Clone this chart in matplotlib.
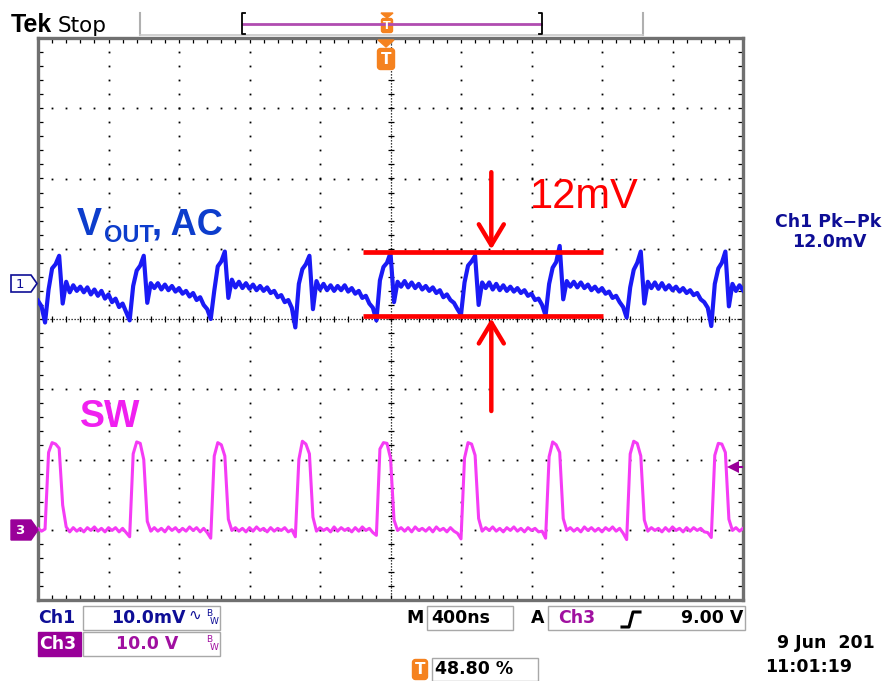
import numpy as np
import matplotlib.pyplot as plt
from matplotlib.patches import Rectangle, Polygon, FancyBboxPatch

# scope settings
time_per_div = 400.0   # ns/div  (M 400ns)
ch1_per_div = 10.0     # mV/div
ch3_per_div = 10.0     # V/div
ch1_offset = 0.5       # div above centre (marker "1")
ch3_offset = -3.0      # div (marker "3")
trig_level = 9.0       # V, Ch3 rising edge
sample_ns = 20.0       # one sample every 20 ns across the 4 us record

# Ch1: Vout AC ripple, mV (every 20 ns)
ch1_mv = [-2.4, -3.2, -5.5,
          -0.8, 2.2, 2.8, 4.0, -2.8, 0.3, -1.2, -0.2, -1.0, -0.4, -1.2, -0.5,
          -1.5, -0.8, -1.7, -1.0, -2.1, -1.5, -2.6, -2.1, -3.3, -2.8, -4.0, -5.2,
          -0.3, 1.9, 2.6, 4.0, -2.7, 0.1, -0.6, 0.1, -0.8, -0.1, -0.9, -0.3,
          -1.1, -0.6, -1.4, -1.0, -1.8, -1.3, -2.3, -1.9, -3.0, -3.6, -5.0,
          -1.0, 2.5, 3.2, 4.6, -2.0, 0.6, -0.5, 0.3, -0.6, 0.1, -0.7, -0.1,
          -0.9, -0.3, -1.0, -0.5, -1.3, -1.0, -1.9, -1.6, -2.6, -2.3, -3.4, -6.2,
          0.0, 2.1, 2.8, 4.0, -3.6, 0.4, -0.8, 0.0, -0.9, -0.2, -1.0, -0.3,
          -0.9, -0.2, -1.1, -0.6, -1.4, -1.0, -2.0, -1.7, -2.8, -3.4, -5.2,
          0.5, 2.4, 3.0, 4.4, -2.6, 0.3, -0.4, 0.4, -0.5, 0.2, -0.6, 0.0,
          -0.8, -0.3, -1.0, -0.5, -1.3, -0.9, -1.9, -1.5, -2.3, -2.7, -3.6, -4.4,
          0.2, 2.6, 3.2, 4.0, -3.0, 0.2, -0.6, 0.2, -0.8, 0.0, -0.9, -0.2,
          -1.0, -0.4, -1.1, -0.6, -1.3, -0.9, -1.7, -1.4, -2.3, -2.1, -3.0, -4.5,
          0.0, 2.3, 3.1, 5.4, -2.2, 0.4, -0.4, 0.3, -0.5, 0.2, -0.6, -0.1,
          -0.9, -0.4, -1.1, -0.6, -1.4, -1.1, -2.0, -1.7, -2.6, -3.3, -4.8,
          -0.5, 2.0, 3.0, 4.6, -2.8, 0.3, -0.6, 0.2, -0.7, 0.1, -0.8, -0.2,
          -0.9, -0.4, -1.1, -0.6, -1.3, -0.9, -1.6, -1.3, -2.2, -2.6, -3.4, -6.0,
          0.0, 2.2, 3.0, 4.6, -3.2, 0.0, -1.0, -0.2, -0.9]

# Ch3: switch node, V
ch3_v = [0.2, -0.2, 0.1,
         11.0, 12.4, 12.2, 11.6, 3.5, 0.4,
         -0.3, 0.3, -0.2, 0.2, -0.3, 0.3, -0.1, 0.4, -0.2, 0.2, -0.3, 0.3, -0.1, 0.3, -0.3, 0.2, -0.4, -1.0,
         10.8, 12.5, 12.3, 10.0, 1.2,
         -0.2, 0.3, -0.2, 0.2, -0.3, 0.4, -0.1, 0.3, -0.3, 0.2, -0.2, 0.4, -0.1, 0.3, -0.3, 0.2, -0.4, -1.2,
         10.5, 12.4, 12.1, 10.5, 1.5,
         -0.1, 0.3, -0.2, 0.2, -0.3, 0.3, -0.2, 0.4, -0.1, 0.2, -0.3, 0.3, -0.2, 0.2, -0.1, 0.3, -0.3, 0.0, -1.0,
         10.0, 12.6, 12.2, 10.8, 1.8,
         -0.2, 0.3, -0.1, 0.2, -0.3, 0.4, -0.2, 0.3, -0.1, 0.2, -0.3, 0.3, -0.2, 0.4, -0.1, 0.2, -0.4, -0.8,
         11.5, 12.4, 12.3, 10.2, 1.4,
         -0.1, 0.3, -0.2, 0.3, -0.3, 0.4, -0.1, 0.2, -0.2, 0.3, -0.3, 0.4, -0.1, 0.2, -0.3, 0.3, -0.2, -0.5, -1.3,
         10.2, 12.4, 12.2, 10.6, 1.6,
         -0.2, 0.3, -0.1, 0.4, -0.2, 0.2, -0.3, 0.3, -0.1, 0.4, -0.2, 0.2, -0.3, 0.3, -0.1, 0.2, -0.3, -0.2, -1.2,
         10.4, 12.5, 12.1, 11.0, 1.6,
         -0.1, 0.3, -0.2, 0.2, -0.3, 0.4, -0.1, 0.3, -0.2, 0.2, -0.3, 0.3, -0.1, 0.4, -0.2, 0.2, -0.5, -1.4,
         10.8, 12.6, 12.3, 10.5, 1.4,
         -0.2, 0.3, -0.1, 0.2, -0.3, 0.3, -0.2, 0.4, -0.1, 0.2, -0.3, 0.3, -0.2, 0.3, -0.1, 0.2, -0.3, -0.4, -1.1,
         10.6, 12.3, 12.2, 11.0, 1.5,
         -0.1, 0.3, -0.2, 0.2]

# pk-pk annotation lines (mV on Ch1)
pk_top_mv = 4.6
pk_bot_mv = -4.6

BLUE_TXT = '#0e0e96'
PURPLE = '#990099'
ORANGE = '#f5821f'
SCOPE_FONT = 'DejaVu Sans'
ARIAL = 'Liberation Sans'

W, H = 894, 681
fig = plt.figure(figsize=(W / 100, H / 100), dpi=100)
fig.patch.set_facecolor('white')

# graticule, 10 x 8 divisions
ax = fig.add_axes([38 / W, 1 - 600 / H, 705 / W, 562 / H], zorder=1)
ax.set_xlim(0, 10)
ax.set_ylim(-4, 4)
for s in ax.spines.values():
    s.set_color('#707070')
    s.set_linewidth(2.4)
ax.set_xticks(np.arange(0, 10.001, 0.2))
ax.set_yticks(np.arange(-4, 4.001, 0.2))
ax.tick_params(direction='in', length=3.5, width=0.9, color='black',
               top=True, right=True, labelbottom=False, labelleft=False)

minor_x = np.arange(0, 10.001, 0.2)
minor_y = np.arange(-4, 4.001, 0.2)
for gx in range(1, 10):
    if gx != 5:
        ax.plot(np.full(minor_y.size, gx), minor_y, 's', ms=1.3, mew=0, color='black')
for gy in range(-3, 4):
    if gy != 0:
        ax.plot(minor_x, np.full(minor_x.size, gy), 's', ms=1.3, mew=0, color='black')
ax.axhline(0, color='black', lw=0.9, ls=(0, (1, 1.4)))
ax.axvline(5, color='black', lw=0.9, ls=(0, (1, 1.4)))
ax.plot(minor_x, np.zeros(minor_x.size), '|', ms=5, mew=0.9, color='black')
ax.plot(np.full(minor_y.size, 5), minor_y, '_', ms=5, mew=0.9, color='black')

# traces
t1 = np.arange(len(ch1_mv)) * sample_ns / time_per_div
t3 = np.arange(len(ch3_v)) * sample_ns / time_per_div
ax.plot(t3, ch3_offset + np.array(ch3_v) / ch3_per_div, color='#f53cf5', lw=2.2, zorder=3)
ax.plot(t1, ch1_offset + np.array(ch1_mv) / ch1_per_div, color='#1a1af5', lw=3.0, zorder=3)

# trigger level marker on the right edge
trig_y = ch3_offset + trig_level / ch3_per_div
ax.plot([9.86, 9.99], [trig_y, trig_y], color=PURPLE, lw=1.5, zorder=4, clip_on=False)
ax.plot([9.86], [trig_y], marker='<', ms=8, color=PURPLE, mew=0, zorder=4)

# red pk-pk annotation
y_top = ch1_offset + pk_top_mv / ch1_per_div
y_bot = ch1_offset + pk_bot_mv / ch1_per_div
ax.hlines([y_top, y_bot], 4.61, 8.01, color='#ff0000', lw=3.4, zorder=5)
arrow = dict(arrowstyle='->,head_length=0.75,head_width=0.45', color='#ff0000',
             lw=3.2, mutation_scale=20, shrinkA=0, shrinkB=0)
ax.annotate('', xy=(6.43, y_top + 0.03), xytext=(6.43, 2.09), arrowprops=arrow, zorder=5)
ax.annotate('', xy=(6.43, y_bot - 0.03), xytext=(6.43, -1.31), arrowprops=arrow, zorder=5)

# overlay in screen pixels for the scope chrome
ov = fig.add_axes([0, 0, 1, 1], zorder=5)
ov.set_xlim(0, W)
ov.set_ylim(H, 0)
ov.axis('off')

ov.text(530, 208, '12mV', color='#ff0000', fontsize=30, family=ARIAL, va='baseline')
ov.text(77, 235, 'V', color='#0d3dcc', fontsize=27, fontweight='bold', family=ARIAL, va='baseline')
ov.text(104, 242, 'OUT', color='#0d3dcc', fontsize=17, fontweight='bold', family=ARIAL, va='baseline')
ov.text(152, 235, ', AC', color='#0d3dcc', fontsize=26, fontweight='bold', family=ARIAL, va='baseline')
ov.text(80, 427, 'SW', color='#f020f0', fontsize=27, fontweight='bold', family=ARIAL, va='baseline')

# top bar
ov.text(11, 32, 'Tek', fontsize=18, fontweight='bold', family=ARIAL, va='baseline')
ov.text(58, 31.5, 'Stop', fontsize=15.5, family=SCOPE_FONT, va='baseline')
ov.plot([140, 140], [13, 35], color='#b0b0b0', lw=1.5)
ov.plot([643, 643], [13, 35], color='#b0b0b0', lw=1.5)
ov.plot([140, 643], [35, 35], color='#c8c8c8', lw=1.2)
ov.plot([243, 541], [23.5, 23.5], color='#b04cb0', lw=2)
ov.plot([245, 242, 242, 245], [13, 13, 34, 34], color='black', lw=1.3)
ov.plot([539, 542, 542, 539], [13, 13, 34, 34], color='black', lw=1.3)
ov.add_patch(Polygon([(381, 13), (393, 13), (387, 18)], color=ORANGE))
ov.add_patch(FancyBboxPatch((382, 19), 10, 13, boxstyle='round,pad=0.5,rounding_size=2', color=ORANGE))
ov.text(387, 26, 'T', color='white', fontsize=8, fontweight='bold', family=SCOPE_FONT, ha='center', va='center')
ov.add_patch(Polygon([(378, 40), (394, 40), (386, 47)], color=ORANGE))
ov.add_patch(FancyBboxPatch((378, 49), 16, 20, boxstyle='round,pad=0.5,rounding_size=3', color=ORANGE))
ov.text(386, 59.5, 'T', color='white', fontsize=11, fontweight='bold', family=SCOPE_FONT, ha='center', va='center')

# channel ground markers
ov.add_patch(Polygon([(11, 275), (31, 275), (37, 283.5), (31, 292), (11, 292)],
                     facecolor='white', edgecolor=BLUE_TXT, lw=1.2))
ov.text(20, 284, '1', color=BLUE_TXT, fontsize=9.5, family=SCOPE_FONT, ha='center', va='center')
ov.add_patch(Polygon([(11, 520), (31, 520), (38, 530), (31, 540), (11, 540)], color=PURPLE))
ov.text(20, 530.5, '3', color='white', fontsize=9.5, fontweight='bold', family=SCOPE_FONT,
        ha='center', va='center')

# measurement readout
ov.text(828, 222, 'Ch1 Pk\u2212Pk', color=BLUE_TXT, fontsize=12.5, fontweight='bold',
        family=SCOPE_FONT, ha='center', va='center')
ov.text(829, 242, '12.0mV', color=BLUE_TXT, fontsize=12.5, fontweight='bold',
        family=SCOPE_FONT, ha='center', va='center')

# bottom status bar
st = dict(fontsize=12.5, fontweight='bold', family=SCOPE_FONT, va='center')
box = dict(fill=False, edgecolor='#a8a8a8', lw=1)
ov.text(38, 618, 'Ch1', color=BLUE_TXT, **st)
ov.add_patch(Rectangle((83, 606), 137, 24, **box))
ov.text(186, 618, '10.0mV', color=BLUE_TXT, ha='right', **st)
ov.text(195, 615, '\u223f', color=BLUE_TXT, fontsize=11, family=SCOPE_FONT, ha='center', va='center')
ov.text(209, 613, 'B', color=BLUE_TXT, fontsize=6.5, family=SCOPE_FONT, ha='center', va='center')
ov.text(214, 622, 'W', color=BLUE_TXT, fontsize=6.5, family=SCOPE_FONT, ha='center', va='center')

ov.add_patch(Rectangle((38, 632), 43, 24, color=PURPLE))
ov.text(39, 644, 'Ch3', color='white', **st)
ov.add_patch(Rectangle((83, 632), 137, 24, **box))
ov.text(178, 644, '10.0 V', color='#a010a0', ha='right', **st)
ov.text(209, 639, 'B', color='#a010a0', fontsize=6.5, family=SCOPE_FONT, ha='center', va='center')
ov.text(214, 648, 'W', color='#a010a0', fontsize=6.5, family=SCOPE_FONT, ha='center', va='center')

ov.text(406, 618, 'M', color='black', **st)
ov.add_patch(Rectangle((427, 606), 86, 24, **box))
ov.text(431, 618, '400ns', color='black', **st)
ov.text(531, 618, 'A', color='black', **st)
ov.add_patch(Rectangle((548, 606), 197, 24, **box))
ov.text(558, 618, 'Ch3', color='#a010a0', **st)
ov.plot([622, 629, 633, 640], [627, 627, 612, 612], color='black', lw=2.2)
ov.text(743, 618, '9.00 V', color='black', ha='right', **st)

ov.add_patch(FancyBboxPatch((413, 660), 14, 19, boxstyle='round,pad=0.5,rounding_size=3', color=ORANGE))
ov.text(420, 669.5, 'T', color='white', fontsize=11, fontweight='bold', family=SCOPE_FONT, ha='center', va='center')
ov.add_patch(Rectangle((432, 658), 106, 23, **box))
ov.text(435, 669, '48.80 %', color='black', **st)

ov.text(777, 643, '9 Jun  201', color='black', **st)
ov.text(765, 667, '11:01:19', color='black', **st)

fig.savefig('out.png', dpi=100)
